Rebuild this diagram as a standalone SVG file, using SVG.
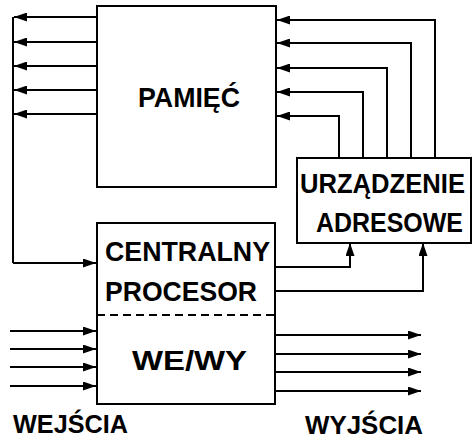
<svg xmlns="http://www.w3.org/2000/svg" width="472" height="442" viewBox="0 0 472 442">
<defs>
<marker id="ah" viewBox="0 0 13 9" refX="13" refY="4.5" markerWidth="13" markerHeight="9" markerUnits="userSpaceOnUse" orient="auto">
<path d="M0,0 L13,4.5 L0,9 Z" fill="#000"/>
</marker>
</defs>
<style>
.box{fill:#fff;stroke:#000;stroke-width:2}
.ln{fill:none;stroke:#000;stroke-width:2}
.arr{fill:none;stroke:#000;stroke-width:2;marker-end:url(#ah)}
.t{font-family:"Liberation Sans",Arial,sans-serif;font-weight:bold;font-size:28px;fill:#000}
.s{font-size:26px}
.n{font-size:25px}
</style>
<rect width="472" height="442" fill="#fff"/>
<g id="connectors">
<path class="ln" d="M13,17 V263"/>
<path class="arr" d="M97,17 H14"/>
<path class="arr" d="M97,42 H14"/>
<path class="arr" d="M97,66 H14"/>
<path class="arr" d="M97,90 H14"/>
<path class="arr" d="M97,114 H14"/>
<path class="arr" d="M13,263 H96"/>
<path class="arr" d="M435,158 V20 H277"/>
<path class="arr" d="M411,158 V43 H277"/>
<path class="arr" d="M387,158 V68 H277"/>
<path class="arr" d="M363,158 V92 H277"/>
<path class="arr" d="M339,158 V116 H277"/>
<path class="arr" d="M275,267 H350 V243"/>
<path class="arr" d="M275,291 H423 V243"/>
<path class="arr" d="M10,331 H96"/>
<path class="arr" d="M10,349 H96"/>
<path class="arr" d="M10,367 H96"/>
<path class="arr" d="M10,386 H96"/>
<path class="arr" d="M275,335 H421"/>
<path class="arr" d="M275,354 H421"/>
<path class="arr" d="M275,372 H421"/>
<path class="arr" d="M275,391 H421"/>
</g>
<g id="pamiec">
<rect class="box" x="97" y="6" width="179" height="181"/>
<text class="t" x="138" y="107" textLength="102" lengthAdjust="spacingAndGlyphs">PAMIĘĆ</text>
</g>
<g id="urzadzenie">
<rect class="box" x="297" y="158" width="174" height="85"/>
<text class="t n" transform="translate(300,193) scale(1,1.12)" x="0" y="0" textLength="165" lengthAdjust="spacingAndGlyphs">URZĄDZENIE</text>
<text class="t n" transform="translate(316,232) scale(1,1.12)" x="0" y="0" textLength="147" lengthAdjust="spacingAndGlyphs">ADRESOWE</text>
</g>
<g id="procesor">
<rect class="box" x="97" y="223" width="178" height="181"/>
<line x1="97" y1="315" x2="275" y2="315" stroke="#000" stroke-width="2" stroke-dasharray="8,5"/>
<text class="t" x="105" y="261" textLength="165" lengthAdjust="spacingAndGlyphs">CENTRALNY</text>
<text class="t" x="105" y="301" textLength="152" lengthAdjust="spacingAndGlyphs">PROCESOR</text>
<text class="t" x="132" y="370" textLength="115" lengthAdjust="spacingAndGlyphs">WE/WY</text>
</g>
<g id="labels">
<text class="t s" x="13" y="433" textLength="115" lengthAdjust="spacingAndGlyphs">WEJŚCIA</text>
<text class="t s" x="305" y="434" textLength="118" lengthAdjust="spacingAndGlyphs">WYJŚCIA</text>
</g>
</svg>
